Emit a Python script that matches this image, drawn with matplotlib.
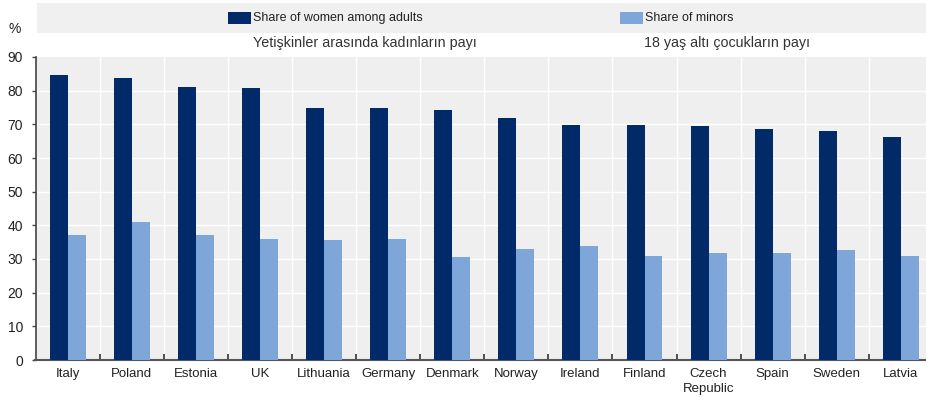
import matplotlib
matplotlib.use("Agg")
import matplotlib.pyplot as plt
import numpy as np
from matplotlib.patches import Rectangle

countries = ["Italy", "Poland", "Estonia", "UK", "Lithuania", "Germany", "Denmark",
             "Norway", "Ireland", "Finland", "Czech\nRepublic", "Spain", "Sweden", "Latvia"]
women_adults = [84.7, 83.8, 81.1, 80.7, 74.8, 74.8, 74.3, 71.8, 69.8, 69.8, 69.4, 68.6, 68.0, 66.1]
minors = [37.2, 41.1, 37.0, 35.9, 35.6, 35.9, 30.6, 32.9, 33.9, 30.9, 31.9, 31.9, 32.8, 30.9]

legend_en = ["Share of women among adults", "Share of minors"]
legend_tr = ["Yetişkinler arasında kadınların payı", "18 yaş altı çocukların payı"]

dark = "#002a68"
light = "#7ea6d8"
bg = "#efefef"
font = ["Liberation Sans", "DejaVu Sans"]

W, H = 926, 403
fig = plt.figure(figsize=(W / 100, H / 100), dpi=100)

def fx(px):
    return px / W

def fy(py):
    return 1 - py / H

# plot area (right side runs past the figure edge like in the source image)
left_px, right_px, top_px, bot_px = 35.5, 933, 57, 360
ax = fig.add_axes([fx(left_px), fy(bot_px), fx(right_px - left_px), (bot_px - top_px) / H])
ax.set_facecolor(bg)

x = np.arange(len(countries))
bw = 0.28
ax.bar(x - bw / 2, women_adults, bw, color=dark, zorder=3)
ax.bar(x + bw / 2, minors, bw, color=light, zorder=3)

ax.set_xlim(-0.5, len(countries) - 0.5)
ax.set_ylim(0, 90)
ax.set_yticks(range(0, 91, 10))
ax.tick_params(axis="y", length=3, width=1, color="#444444", pad=6,
               labelsize=10, labelcolor="#222222")
for lab in ax.get_yticklabels():
    lab.set_family(font)

ax.set_xticks(x)
ax.set_xticklabels(countries, family=font, fontsize=9.5, color="#222222", linespacing=1.25)
ax.tick_params(axis="x", length=0, pad=6)
# small ticks at category boundaries
ax.set_xticks(np.arange(0.5, len(countries) - 0.5, 1), minor=True)
ax.tick_params(axis="x", which="minor", direction="in", length=4, width=1.2, color="#333333")

# white grid
for yv in range(10, 90, 10):
    ax.axhline(yv, color="white", lw=1.0, zorder=1)
for xv in np.arange(0.5, len(countries) - 0.5, 1):
    ax.axvline(xv, color="white", lw=1.0, zorder=1)

for side in ["top", "right"]:
    ax.spines[side].set_visible(False)
ax.spines["left"].set_color("#444444")
ax.spines["left"].set_linewidth(1.2)
ax.spines["bottom"].set_color("#555555")
ax.spines["bottom"].set_linewidth(1.5)

# legend band
fig.patches.append(Rectangle((fx(37), fy(33)), fx(W - 37), 30 / H,
                             transform=fig.transFigure, facecolor="#f0f0f0", edgecolor="none"))
for px, col, txt, tr_px, tr in [(228, dark, legend_en[0], 253, legend_tr[0]),
                                (620, light, legend_en[1], 644, legend_tr[1])]:
    fig.patches.append(Rectangle((fx(px), fy(24)), fx(23), 12 / H,
                                 transform=fig.transFigure, facecolor=col, edgecolor="none"))
    fig.text(fx(px + 25), fy(18), txt, family=font, fontsize=9,
             color="#222222", va="center", ha="left")
    fig.text(fx(tr_px), fy(43), tr, family=font, fontsize=10.3,
             color="#333333", va="center", ha="left")

fig.text(fx(15), fy(29), "%", family=font, fontsize=10, color="#222222",
         va="center", ha="center")

fig.savefig("out.png", dpi=100)
